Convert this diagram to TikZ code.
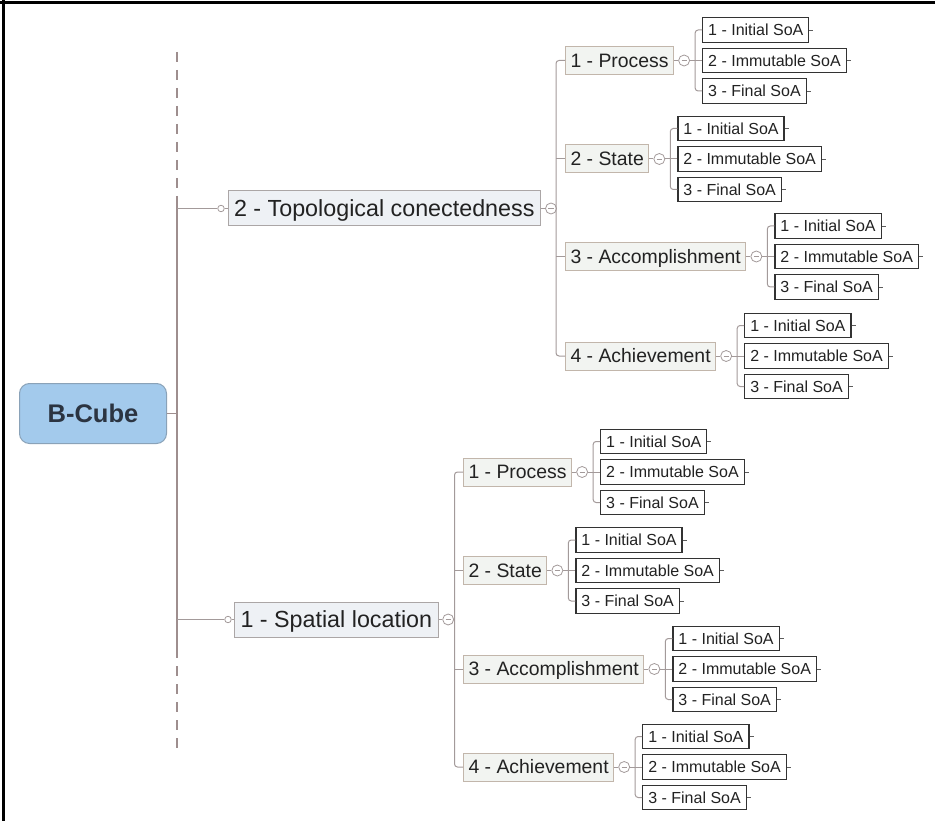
\documentclass[tikz,border=0pt]{standalone}
\usepackage{fontspec}
\setmainfont{Liberation Sans}
\usetikzlibrary{calc}
\definecolor{conn}{HTML}{A39A9A}
\definecolor{trunkc}{HTML}{9E8E8E}
\definecolor{lonefill}{HTML}{EEF1F5}
\definecolor{loneborder}{HTML}{ABA6A6}
\definecolor{ltwofill}{HTML}{F2F4F1}
\definecolor{ltwoborder}{HTML}{C2B6AB}
\definecolor{soaborder}{HTML}{333333}
\definecolor{bcfill}{HTML}{A3CAEC}
\definecolor{bcborder}{HTML}{8AA2B8}
\definecolor{bctext}{HTML}{2B3441}
\definecolor{txt}{HTML}{222222}
\tikzset{
  conline/.style={draw=conn, line width=1pt},
  lvone/.style={draw=loneborder, fill=lonefill, line width=1pt, text=txt,
    font=\fontsize{23.3}{26}\selectfont, minimum height=35pt, inner xsep=6pt, inner ysep=0pt,
    text height=17pt, text depth=0.5pt},
  lvtwo/.style={draw=ltwoborder, fill=ltwofill, line width=1pt, text=txt,
    font=\fontsize{19.4}{22}\selectfont, minimum height=28pt, inner xsep=5pt, inner ysep=0pt,
    text height=14pt, text depth=0.4pt},
  soabox/.style={draw=soaborder, fill=white, line width=1.2pt, text=txt,
    font=\fontsize{16}{18}\selectfont, minimum height=24.5pt, inner xsep=5.5pt, inner ysep=0pt,
    text height=11.5pt, text depth=0.3pt},
  collapse/.style={circle, draw=conn, fill=white, line width=0.8pt, minimum size=11pt, inner sep=0pt,
    path picture={\draw[conn, line width=0.8pt] ([xshift=-2.6pt]path picture bounding box.center) -- ([xshift=2.6pt]path picture bounding box.center);}},
  opencirc/.style={circle, draw=conn, fill=white, line width=0.8pt, minimum size=6.5pt, inner sep=0pt},
  stub/.style={draw=soaborder!80, line width=0.9pt},
}
% group: prefix, label, left x, center y
\newcommand\soagroup[4]{%
  \node[lvtwo, anchor=west] (#1) at (#3,#4) {#2};
  \node[collapse] (#1c) at ([xshift=10pt]#1.east) {};
  \coordinate (#1v) at ([xshift=11pt]#1c.center);
  \node[soabox, anchor=west] (#1a) at ([xshift=7pt, yshift=30.5pt]#1v) {1 - Initial SoA};
  \node[soabox, anchor=west] (#1b) at ([xshift=7pt]#1v) {2 - Immutable SoA};
  \node[soabox, anchor=west] (#1d) at ([xshift=7pt, yshift=-30.5pt]#1v) {3 - Final SoA};
  \draw[conline] (#1.east) -- (#1c.west);
  \draw[conline] (#1c.east) -- (#1b.west);
  \draw[conline, rounded corners=3pt] (#1a.west) -- ++(-7pt,0pt) |- (#1d.west);
  \draw[stub] (#1a.east) -- ++(4pt,0pt);
  \draw[stub] (#1b.east) -- ++(4pt,0pt);
  \draw[stub] (#1d.east) -- ++(4pt,0pt);
}
\begin{document}
\begin{tikzpicture}[x=1pt, y=-1pt]
\useasboundingbox (0,0) rectangle (935,821);
% frame
\draw[black, line width=3pt] (3.5,0) -- (3.5,821);
\draw[black, line width=3pt] (0,2.5) -- (935,2.5);

% trunk
\coordinate (trtop) at (177,52);
\coordinate (trA) at (177,198);
\coordinate (trB) at (177,648);
\coordinate (trbot) at (177,752);
\draw[trunkc, line width=1.2pt, dash pattern=on 10pt off 8pt] (trtop) -- (trA);
\draw[trunkc, line width=1.2pt] (trA) -- (trB);
\draw[trunkc, line width=1.2pt, dash pattern=on 10pt off 8pt] (trB) -- (trbot);

% root
\node[draw=bcborder, fill=bcfill, line width=1pt, rounded corners=10pt, minimum width=147pt,
  minimum height=60pt, text=bctext, text height=18.5pt, text depth=0pt,
  font=\bfseries\fontsize{25.5}{28}\selectfont] (bc) at (93,413.5) {B-Cube};
\draw[trunkc, line width=1.2pt] (bc.east) -- (bc.east -| trA);

% level 1: Topological
\node[opencirc] (t2o) at (221,208.5) {};
\node[lvone, anchor=west, minimum width=310pt] (t2) at (227.5,208.5) {2 - Topological conectedness};
\draw[conline] (t2o.west -| trA) -- (t2o.west);
\draw[conline] (t2o.east) -- (t2.west);
\node[collapse] (t2c) at ([xshift=10pt]t2.east) {};
\draw[conline] (t2.east) -- (t2c.west);

\soagroup{tp}{1 - Process}{565}{60.5}
\soagroup{ts}{2 - State}{565}{159}
\soagroup{tc}{3 - Accomplishment}{565}{256.5}
\soagroup{th}{4 - Achievement}{565}{356}
\draw[conline, rounded corners=3pt] (tp.west) -- ++(-9pt,0pt) |- (th.west);
\draw[conline] (ts.west) -- ++(-9pt,0pt);
\draw[conline] (tc.west) -- ++(-9pt,0pt);
\draw[conline] (t2c.east) -- ([xshift=-9pt]t2c.east -| tp.west);

% level 1: Spatial
\node[opencirc] (s1o) at (228,619.5) {};
\node[lvone, anchor=west, minimum width=201pt] (s1) at (234,619.5) {1 - Spatial location};
\draw[conline] (s1o.west -| trA) -- (s1o.west);
\draw[conline] (s1o.east) -- (s1.west);
\node[collapse] (s1c) at ([xshift=9.5pt]s1.east) {};
\draw[conline] (s1.east) -- (s1c.west);

\soagroup{sp}{1 - Process}{463}{472}
\soagroup{ss}{2 - State}{463}{570.5}
\soagroup{sc}{3 - Accomplishment}{463}{669}
\soagroup{sh}{4 - Achievement}{463}{767}
\draw[conline, rounded corners=3pt] (sp.west) -- ++(-8.5pt,0pt) |- (sh.west);
\draw[conline] (ss.west) -- ++(-8.5pt,0pt);
\draw[conline] (sc.west) -- ++(-8.5pt,0pt);
\draw[conline] (s1c.east) -- ([xshift=-8.5pt]s1c.east -| sp.west);
\end{tikzpicture}
\end{document}
